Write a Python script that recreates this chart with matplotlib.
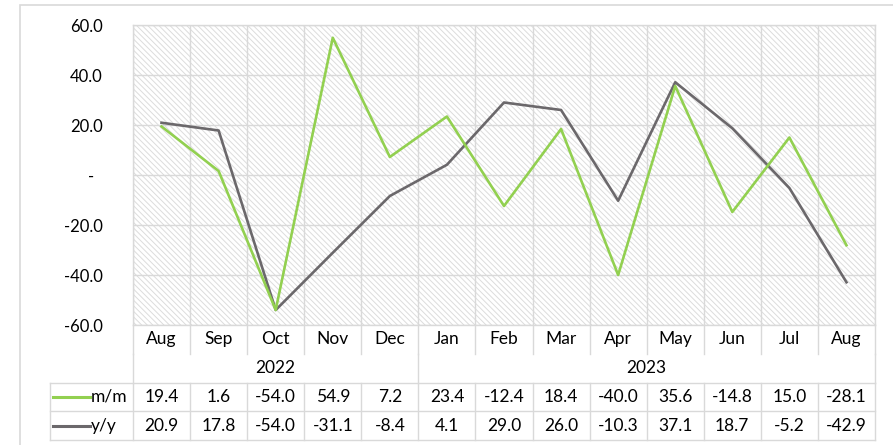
import matplotlib.pyplot as plt
import matplotlib.ticker as mticker
from matplotlib.patches import Rectangle
import numpy as np

# chart data
months = ['Aug', 'Sep', 'Oct', 'Nov', 'Dec', 'Jan', 'Feb', 'Mar', 'Apr',
          'May', 'Jun', 'Jul', 'Aug']
years = ['2022', '2023']
year_counts = [5, 8]
mm = [19.4, 1.6, -54.0, 54.9, 7.2, 23.4, -12.4, 18.4, -40.0, 35.6, -14.8, 15.0, -28.1]
yy = [20.9, 17.8, -54.0, -31.1, -8.4, 4.1, 29.0, 26.0, -10.3, 37.1, 18.7, -5.2, -42.9]
series_names = ['m/m', 'y/y']

green = '#92d050'
grey = '#6b686b'
grid_c = '#d9d9d9'

plt.rcParams['font.family'] = ['Lato', 'DejaVu Sans']
plt.rcParams['hatch.linewidth'] = 0.7

W, H = 893, 445
fig = plt.figure(figsize=(W / 100, H / 100), dpi=100)


def box(x0, y0, x1, y1):
    # pixel box (top-down) -> figure fraction rect
    return [x0 / W, 1 - y1 / H, (x1 - x0) / W, (y1 - y0) / H]


# outer chart frame
fig.patches.append(Rectangle((20 / W, -0.1), 1.2, 1 - 5 / H + 0.1,
                             transform=fig.transFigure, fill=False,
                             edgecolor=grid_c, lw=1.2))

x = np.arange(len(months))
n = len(months)

ax = fig.add_axes(box(133, 25, 875, 325))
ax.add_patch(Rectangle((0, 0), 1, 1, transform=ax.transAxes, facecolor='white',
                       edgecolor='#dcdcdc', hatch='\\\\\\\\\\\\', lw=0, zorder=-1))
ax.plot(x, yy, color=grey, lw=1.9, zorder=3)
ax.plot(x, mm, color=green, lw=1.9, zorder=3)
ax.set_xlim(-0.5, n - 0.5)
ax.set_ylim(-60, 60)
ax.set_yticks(np.arange(-60, 61, 20))
ax.yaxis.set_major_formatter(mticker.FuncFormatter(
    lambda v, p: '-  ' if abs(v) < 1e-9 else f'{v:.1f}'))
ax.set_xticks([])
ax.set_xticks(np.arange(-0.5, n, 1), minor=True)
ax.tick_params(axis='x', which='both', length=0, labelbottom=False)
ax.tick_params(axis='y', length=0, pad=22, labelsize=12)
ax.grid(True, axis='y', which='major', color=grid_c, lw=1)
ax.grid(True, axis='x', which='minor', color=grid_c, lw=1)
for s in ax.spines.values():
    s.set_color(grid_c)
    s.set_linewidth(1)

# data table underneath
legw = 83 / (742 / n)
tx = fig.add_axes(box(50, 325, 875, 440))
tx.set_xlim(-0.5 - legw, n - 0.5)
tx.set_ylim(4, 0)
tx.axis('off')

lc = dict(color=grid_c, lw=1)
# month row
for i, m in enumerate(months):
    tx.text(i, 0.5, m, ha='center', va='center', fontsize=12.5)
for b in np.arange(-0.5, n, 1):
    tx.plot([b, b], [0, 1], **lc)
# year row
start = 0
for yr, c in zip(years, year_counts):
    tx.text(start + (c - 1) / 2, 1.5, yr, ha='center', va='center', fontsize=12.5)
    tx.plot([start - 0.5, start - 0.5], [1, 2], **lc)
    start += c
tx.plot([n - 0.5, n - 0.5], [1, 2], **lc)
# value rows
for r, (name, vals, col) in enumerate(zip(series_names, [mm, yy], [green, grey])):
    yc = 2.5 + r
    tx.plot([-0.5 - legw + 0.06, -0.5 - legw + 0.7], [yc, yc], color=col, lw=2.2)
    tx.text(-0.5 - legw + 0.72, yc, name, ha='left', va='center', fontsize=12.5)
    for i, v in enumerate(vals):
        tx.text(i, yc, f'{v:.1f}', ha='center', va='center', fontsize=12.5)
for h in [2, 3, 4]:
    tx.plot([-0.5 - legw, n - 0.5], [h, h], **lc)
for b in np.arange(-0.5, n, 1):
    tx.plot([b, b], [2, 4], **lc)
tx.plot([-0.5 - legw, -0.5 - legw], [2, 4], **lc)
for l in tx.lines:
    l.set_clip_on(False)

fig.savefig('out.png', dpi=100)
